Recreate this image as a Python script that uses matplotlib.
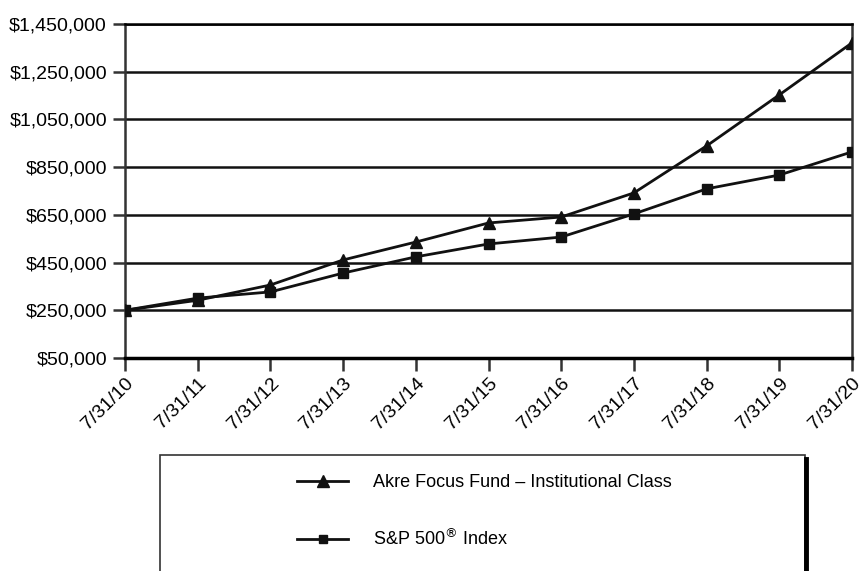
import matplotlib
matplotlib.use("Agg")
import matplotlib.pyplot as plt
from matplotlib.lines import Line2D
from matplotlib.patches import Rectangle

dates = ["7/31/10", "7/31/11", "7/31/12", "7/31/13", "7/31/14", "7/31/15",
         "7/31/16", "7/31/17", "7/31/18", "7/31/19", "7/31/20"]
akre = [250000, 292000, 356000, 461000, 536000, 616000, 641000, 742000, 939000, 1153000, 1371000]
sp500 = [250000, 301000, 327000, 406000, 474000, 528000, 557000, 654000, 759000, 817000, 914000]
yticks = [50000, 250000, 450000, 650000, 850000, 1050000, 1250000, 1450000]
labels = ["Akre Focus Fund \u2013 Institutional Class", "S&P 500$^{\u00ae}$ Index"]

plt.rcParams['font.family'] = ['Liberation Sans', 'DejaVu Sans']

fig = plt.figure(figsize=(8.65, 5.71), dpi=100)
ax = fig.add_axes([125/865, 1-358/571, (852-125)/865, (358-24)/571])

x = list(range(len(dates)))
ax.plot(x, akre, color='#111111', lw=2, marker='^', ms=8, zorder=3, label=labels[0])
ax.plot(x, sp500, color='#111111', lw=2, marker='s', ms=6.5, zorder=3, label=labels[1])

ax.set_xlim(0, len(dates)-1)
ax.set_ylim(50000, 1450000)
ax.set_yticks(yticks)
ax.set_yticklabels([f"${v:,}" for v in yticks], fontsize=14)
ax.set_xticks(x)
ax.set_xticklabels(dates, rotation=45, ha='right', va='top', rotation_mode='anchor', fontsize=14)
for v in yticks:
    ax.axhline(v, color='#111111', lw=1.8, zorder=1)
for s in ['left', 'right']:
    ax.spines[s].set_color('#333333')
    ax.spines[s].set_linewidth(1.8)
ax.spines['bottom'].set_linewidth(2.5)
ax.spines['top'].set_linewidth(1.8)
ax.tick_params(axis='both', direction='out', length=9, width=1.8, color='#333333', pad=4)
ax.tick_params(axis='x', pad=3)

# legend box
box = Rectangle((160/865, -0.1), (805-160)/865, 0.1 + 1-455/571, transform=fig.transFigure,
                fill=False, ec='#333333', lw=1.2)
fig.patches.append(box)
shadow = Line2D([806/865, 806/865], [0, 1-459/571], transform=fig.transFigure, color='black', lw=3.5)
fig.lines.append(shadow)

h1 = Line2D([], [], color='#111111', lw=2, marker='^', ms=8)
h2 = Line2D([], [], color='#111111', lw=2, marker='s', ms=6)
fig.legend([h1, h2], labels,
           loc='upper left', bbox_to_anchor=(281/865, 1-458/571), frameon=False,
           fontsize=13, handlelength=2.8, labelspacing=2.05, handletextpad=1.4)

fig.savefig("out.png", dpi=100)
